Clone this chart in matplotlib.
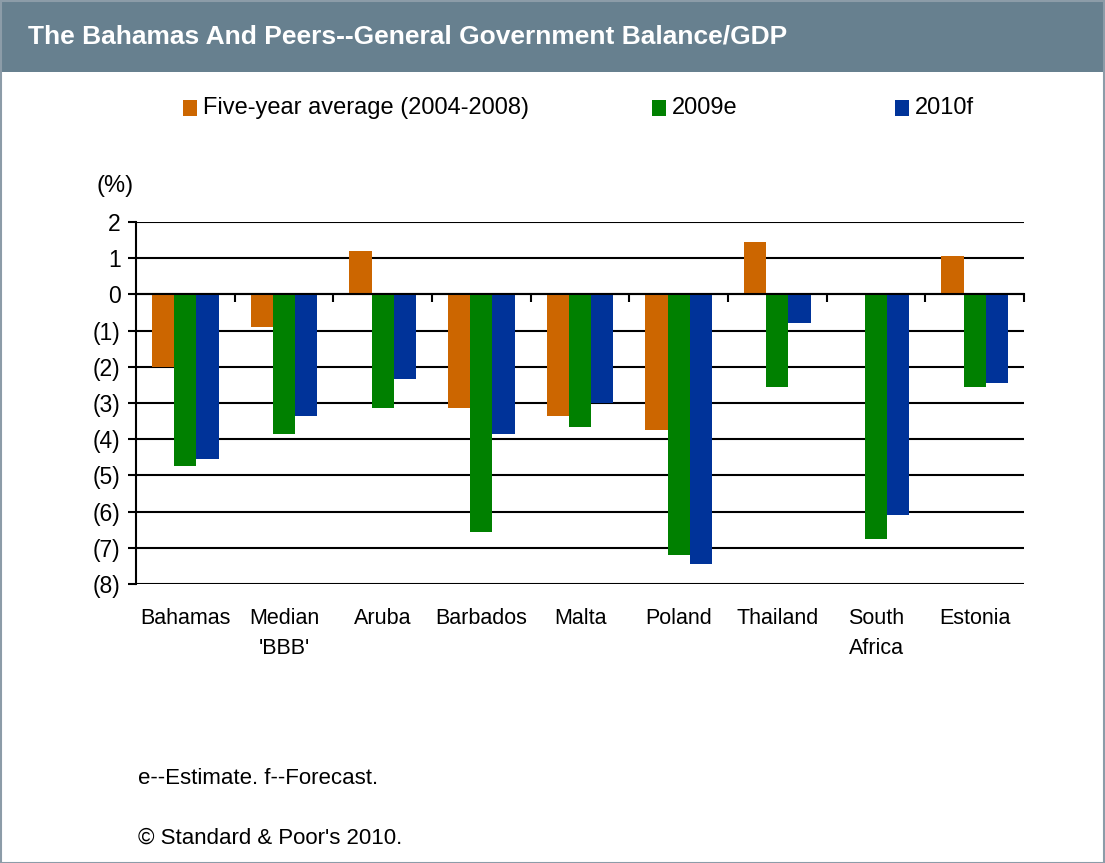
import numpy as np
import matplotlib.pyplot as plt
from matplotlib.patches import Rectangle

plt.rcParams['font.family'] = ['Liberation Sans', 'DejaVu Sans']

categories = ["Bahamas", "Median\n'BBB'", "Aruba", "Barbados", "Malta",
              "Poland", "Thailand", "South\nAfrica", "Estonia"]
avg_0408 = [-2.0, -0.9, 1.2, -3.15, -3.35, -3.75, 1.45, 0.05, 1.05]
est_2009 = [-4.75, -3.85, -3.15, -6.55, -3.65, -7.2, -2.55, -6.75, -2.55]
fc_2010 = [-4.55, -3.35, -2.35, -3.85, -3.0, -7.45, -0.8, -6.1, -2.45]
series_names = ["Five-year average (2004-2008)", "2009e", "2010f"]
colors = ["#CC6600", "#008000", "#003399"]
yticks = list(range(-8, 3))

W, H = 1105, 863
fig = plt.figure(figsize=(W / 100, H / 100), dpi=100)

# header band and frame
fig.patches.append(Rectangle((0, 1 - 72 / H), 1, 72 / H, transform=fig.transFigure,
                             facecolor="#67808F", edgecolor="none", zorder=0))
fig.patches.append(Rectangle((0.5 / W, 0.5 / H), 1 - 1.5 / W, 1 - 1.5 / H, transform=fig.transFigure,
                             facecolor="none", edgecolor="#8C9CA8", lw=1.5, zorder=5))
fig.text(28 / W, 1 - 37 / H, "The Bahamas And Peers--General Government Balance/GDP",
         color="white", fontsize=19, fontweight="bold", va="center", ha="left")

ax = fig.add_axes([136 / W, 1 - 584 / H, (1024 - 136) / W, (584 - 222) / H])
x = np.arange(len(categories))
bw = 0.225
for i, (vals, c) in enumerate(zip([avg_0408, est_2009, fc_2010], colors)):
    ax.bar(x + (i - 1) * bw, vals, width=bw, color=c, zorder=3)

ax.set_xlim(-0.5, len(categories) - 0.5)
ax.set_ylim(-8, 2)
ax.set_yticks(yticks)
ax.set_yticklabels([str(v) if v >= 0 else "(%d)" % -v for v in yticks], fontsize=16.5)
ax.yaxis.grid(True, color="black", lw=1.5, zorder=1)
ax.set_axisbelow(True)
ax.tick_params(axis="y", direction="out", length=6, width=1.5, pad=5)

for s in ["top", "right"]:
    ax.spines[s].set_visible(False)
ax.spines["left"].set_linewidth(1.5)
ax.spines["bottom"].set_position(("data", 0))
ax.spines["bottom"].set_linewidth(1.5)
ax.spines["bottom"].set_zorder(4)
ax.set_xticks(np.arange(len(categories)) + 0.5)
ax.tick_params(axis="x", direction="out", length=6, width=1.5, labelbottom=False)

for xi, lab in zip(x, categories):
    ax.text(xi, -0.065, lab, transform=ax.get_xaxis_transform(), ha="center", va="top",
            fontsize=15.5, linespacing=1.6)

fig.text(97 / W, 1 - 186 / H, "(%)", fontsize=17, va="center", ha="left")

# legend
leg_x = [183, 652, 895]
for lx, name, c in zip(leg_x, series_names, colors):
    fig.patches.append(Rectangle((lx / W, 1 - 116 / H), 14 / W, 16 / H, transform=fig.transFigure,
                                 facecolor=c, edgecolor="none"))
    fig.text((lx + 20) / W, 1 - 108 / H, name, fontsize=17, va="center", ha="left")

fig.text(138 / W, 1 - 778 / H, "e--Estimate. f--Forecast.", fontsize=16, va="center", ha="left")
fig.text(138 / W, 1 - 838 / H, "\u00a9 Standard & Poor's 2010.", fontsize=16, va="center", ha="left")

fig.savefig("out.png", dpi=100)
